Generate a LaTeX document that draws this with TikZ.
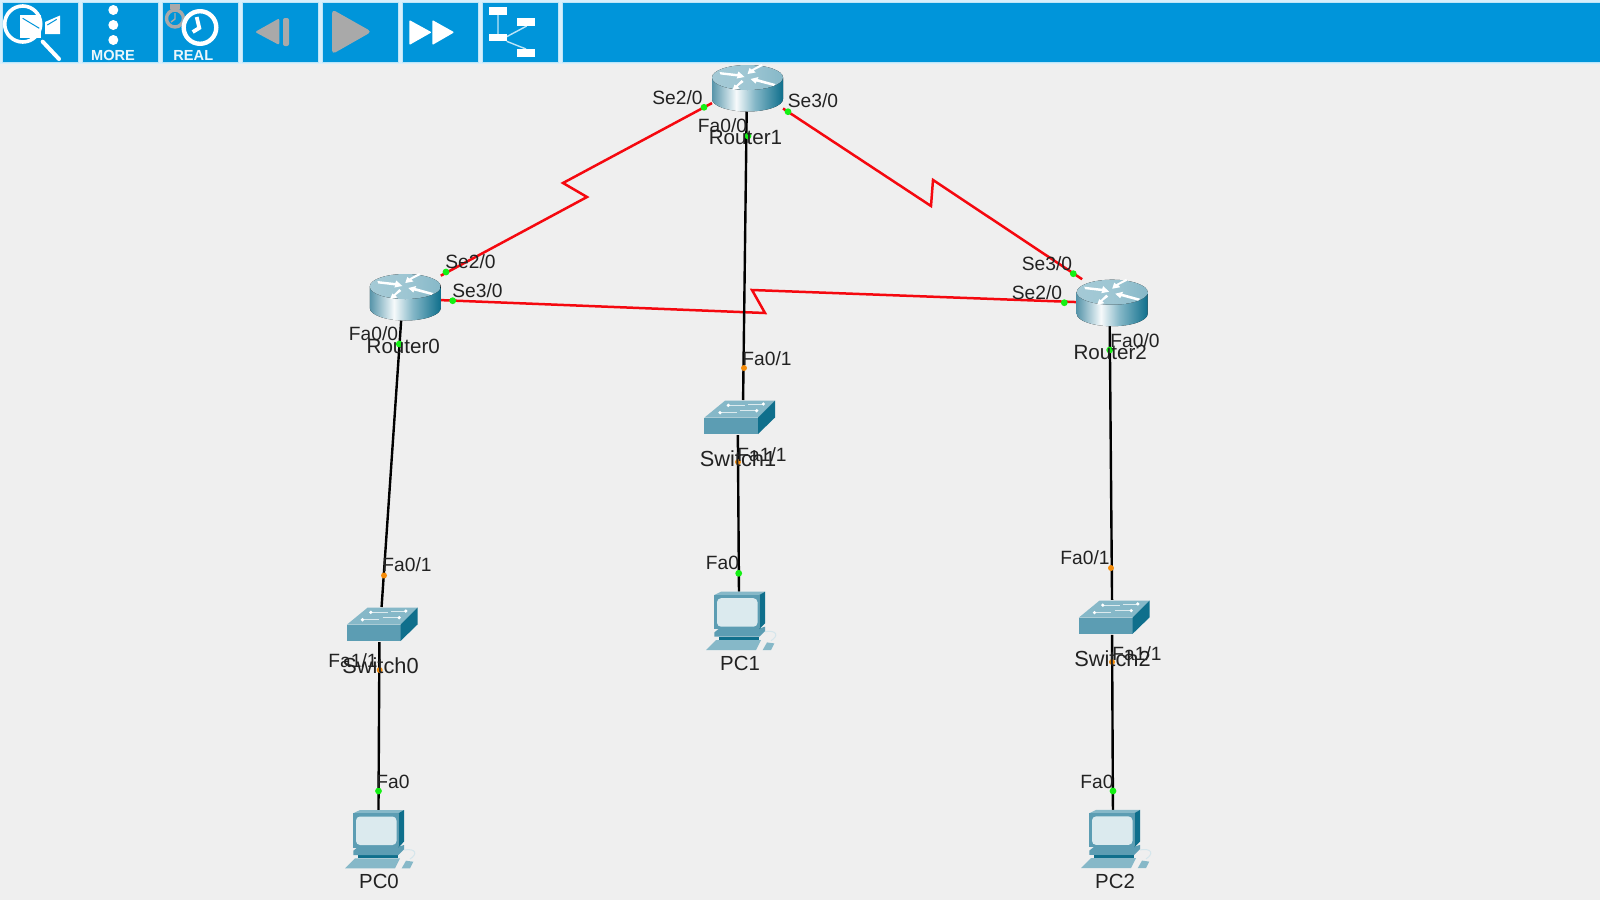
\documentclass[tikz,border=0pt]{standalone}
\usepackage{fontspec}
\setmainfont{Liberation Sans}
\usetikzlibrary{positioning}
\definecolor{barblue}{HTML}{0095DA}
\definecolor{barline}{HTML}{BCE5F8}
\definecolor{canvasgrey}{HTML}{EFEFEF}
\definecolor{btngrey}{HTML}{A9A9A9}
\definecolor{serialred}{HTML}{F5080F}
\definecolor{portgreen}{HTML}{14F014}
\definecolor{portorange}{HTML}{F58C0A}
\definecolor{textgrey}{HTML}{222222}
\definecolor{iconlight}{HTML}{86B8C8}
\definecolor{iconmid}{HTML}{5C9DB3}
\definecolor{icondark}{HTML}{0F6F8C}
\pgfdeclarehorizontalshading{routerside}{100bp}{color(0bp)=(iconmid); color(25bp)=(iconmid!95!black); color(38bp)=(iconmid!30!white); color(42bp)=(white!95!iconmid); color(55bp)=(iconlight); color(75bp)=(icondark); color(100bp)=(icondark)}
\pgfdeclarehorizontalshading{routertop}{100bp}{color(0bp)=(iconlight!75!white); color(25bp)=(iconlight!75!white); color(50bp)=(iconlight!80!white); color(75bp)=(iconlight); color(100bp)=(iconlight)}
\tikzstyle{routernode} = [rectangle, minimum width=35.5pt, minimum height=23.5pt, inner sep=0pt, outer sep=0pt]
\tikzstyle{switchnode} = [rectangle, minimum width=35.5pt, minimum height=17.5pt, inner sep=0pt, outer sep=0pt]
\tikzstyle{pcnode} = [rectangle, minimum width=35pt, minimum height=29pt, inner sep=0pt, outer sep=0pt]
\tikzstyle{devlabel} = [inner sep=0pt, text=textgrey, xshift=-1pt]
\tikzstyle{routerlabel} = [devlabel, font=\fontsize{10.3}{12}\selectfont, node distance=24.75pt]
\tikzstyle{switchlabel} = [devlabel, font=\fontsize{10.9}{12}\selectfont, node distance=20.75pt]
\tikzstyle{pclabel} = [devlabel, font=\fontsize{10.2}{12}\selectfont, node distance=21.25pt, xshift=0.5pt]
\tikzstyle{portlabel} = [inner sep=0pt, text=textgrey, font=\fontsize{9.6}{11}\selectfont]
\tikzstyle{greenport} = [circle, fill=portgreen, minimum size=3.4pt, inner sep=0pt]
\tikzstyle{orangeport} = [circle, fill=portorange, minimum size=3pt, inner sep=0pt]
\tikzstyle{serial} = [draw=serialred, line width=1.25pt, line join=miter]
\tikzstyle{lan} = [draw=black, line width=1.2pt]
\tikzstyle{button} = [fill=barblue, draw=barline, line width=0.5pt]
\tikzstyle{barword} = [inner sep=0pt, text=white!92!barblue, font=\fontsize{7.3}{9}\selectfont\bfseries]
\tikzset{
  routericon/.pic={
    \fill [shading=routerside] (-35.5,-10.5) -- (-35.5,11) arc [start angle=180, end angle=0, x radius=35.5, y radius=12.5] -- (35.5,-10.5) -- cycle;
    \fill [shading=routertop] (0,-10.5) ellipse [x radius=35.5, y radius=12.5];
    \fill [white] (-28,-16) -- (-10,-14) -- (-9,-16.5) -- (-3,-11) -- (-11,-9.5) -- (-10,-11.5) -- (-27,-13.5) -- cycle;
    \fill [white] (15,-22) -- (6,-17.5) -- (8,-15.5) -- (0,-14) -- (2,-20) -- (4,-18.5) -- (14,-24) -- cycle;
    \fill [white] (28,-4) -- (10,-9) -- (11,-11) -- (3,-9) -- (8,-4.5) -- (9,-6.5) -- (26,-2) -- cycle;
    \fill [white] (-4,-6) -- (-10,-1.5) -- (-8,0.5) -- (-15,2) -- (-13,-3.5) -- (-11.5,-2.5) -- (-6,-8) -- cycle;
  },
  switchicon/.pic={
    \fill [iconlight] (-35.7,0.2) -- (-15,-16.8) -- (35,-16.8) -- (18,0.2) -- cycle;
    \fill [iconmid] (-35.7,0.2) rectangle (18,16.5);
    \fill [icondark] (18,0.2) -- (35,-16.8) -- (35,0) -- (18,16.5) -- cycle;
    \draw [white!70!iconlight, line width=0.4pt] (-11.7,-12.2) -- (5,-12.2) (8.3,-13.5) -- (23.3,-13.5) (-20,-4.8) -- (-3.3,-4.8) (0,-6.8) -- (16.7,-6.8);
    \fill [white] (-11.7,-12.2) circle (1.8) (23.3,-13.5) circle (1.8) (-20,-4.8) circle (1.8) (16.7,-6.8) circle (1.8);
  },
  pcicon/.pic={
    \draw [iconlight!35!white, line width=0.5pt] (24,11) .. controls (36,9) and (38,15) .. (30,20);
    \fill [icondark] (-21.7,16) rectangle (18.3,19.3);
    \fill [iconmid] (-26.7,11.7) -- (-21.7,7.7) -- (18.3,7.7) -- (24,6) -- (24,10.3) -- (18.3,16) -- (-26.7,16) -- cycle;
    \fill [iconlight] (-26.7,-25.7) -- (-20,-29) -- (24,-29) -- (18.3,-25.7) -- cycle;
    \fill [icondark] (18.3,-25.7) -- (24,-29) -- (24,2.7) -- (18.3,8.5) -- cycle;
    \fill [iconmid] (-26.7,-25.7) rectangle (18.3,8.5);
    \fill [rounded corners=2pt, fill=iconlight!30!white] (-24,-22.5) rectangle (16.5,6);
    \fill [iconlight] (-35,29.3) -- (-25,19.3) -- (20,19.3) -- (15,29.3) -- cycle;
    \fill [iconlight] (21.7,29.3) -- (26,21.7) -- (33.3,22.7) -- (30,29.3) -- cycle;
  }
}
\begin{document}
\begin{tikzpicture}[x=0.5pt, y=-0.5pt, node distance=100pt]
  \useasboundingbox (0,0) rectangle (1600,900);
  \fill [canvasgrey] (0,0) rectangle (1600,900);

  % toolbar along the top
  \fill [barline!60!white] (0,0) rectangle (1600,64);
  \foreach \xa/\xb in {2/78, 82/158, 162/238, 242/318, 322/398, 402/478, 482/558, 562/1602}
    \draw [button] (\xa,2) rectangle (\xb,62);

  \draw [white, line width=1.8pt] (22.7,24) circle (18);
  \draw [white, line width=2pt, line cap=round] (42.7,41.7) -- (59,59);
  \fill [white] (20,15) rectangle (40.7,38);
  \fill [white] (45,22) -- (60,15.5) -- (60,34) -- (45,34) -- cycle;
  \draw [barblue, line width=0.5pt] (22.7,18.3) -- (39.3,28.3) (47.3,25) -- (56.7,19.3);

  \fill [white] (113.3,10) circle (5) (113.3,25) circle (5) (113.3,40) circle (5);
  \node (morelabel) [barword] at (113,55) {MORE};

  \draw [btngrey, line width=1.7pt] (175,18.5) circle (8.5);
  \draw [btngrey, line width=0.7pt] (175,13) -- (175,19) -- (171,22);
  \fill [btngrey] (170,3.5) rectangle (180,9);
  \fill [barblue] (200,27.5) circle (18.5);
  \draw [white, line width=2.2pt] (200,27.5) circle (16.3);
  \draw [white, line width=1.9pt] (196.7,17) -- (199.3,28) -- (192.7,32);
  \node (reallabel) [barword] at (193.3,55) {REAL};

  \fill [btngrey, rounded corners=1pt] (255,32) -- (279.3,18.3) -- (279.3,45) -- cycle;
  \fill [btngrey, rounded corners=1pt] (283,18) rectangle (289,46);
  \fill [btngrey, rounded corners=2pt] (332,9.3) -- (371.7,31.7) -- (332,54.3) -- cycle;
  \fill [white, rounded corners=0.5pt] (409.3,20) -- (431.7,32.3) -- (409.3,45) -- cycle;
  \fill [white, rounded corners=0.5pt] (432.3,20) -- (454.3,32.3) -- (432.3,45) -- cycle;

  \draw [barline, line width=0.7pt] (498,15) -- (498,34) (506.7,36.7) -- (526.7,26) (506.7,41.3) -- (526,49);
  \fill [white] (489.3,7.3) rectangle (506.7,15);
  \fill [white] (517.3,18.3) rectangle (534.7,26);
  \fill [white] (489.3,33.7) rectangle (506.7,41.3);
  \fill [white] (517.3,49) rectangle (534.7,56.7);

  % We start by placing the devices
  \node (router1) [routernode] at (747.5,88) {};
  \node (router0) [routernode, below of=router1, xshift=-171.1pt, yshift=-4.5pt] {};
  \node (router2) [routernode, below of=router1, xshift=182.35pt, yshift=-7.35pt] {};
  \node (switch1) [switchnode, below of=router1, xshift=-3.75pt, yshift=-64.75pt] {};
  \node (switch0) [switchnode, below of=router0, xshift=-11.4pt, yshift=-63.75pt] {};
  \node (switch2) [switchnode, below of=router2, xshift=1.15pt, yshift=-57.35pt] {};
  \node (pc1) [pcnode, below of=switch1, xshift=0.5pt, yshift=-1.6pt] {};
  \node (pc0) [pcnode, below of=switch0, xshift=-1.25pt, yshift=-7.25pt] {};
  \node (pc2) [pcnode, below of=switch2, xshift=0.75pt, yshift=-10.75pt] {};

  \coordinate (bolt0a) at (587,197);
  \coordinate (bolt0b) at (563,183);
  \coordinate (bolt2a) at (931,206);
  \coordinate (bolt2b) at (933,180);
  \coordinate (bolt3a) at (765,313);
  \coordinate (bolt3b) at (752,290);

  % draw connections between nodes
  \draw [serial] (router0.31) -- (bolt0a) -- (bolt0b) -- (router1.203);
  \draw [serial] (router1.330) -- (bolt2a) -- (bolt2b) -- (router2.142);
  \draw [serial] (router0.355) -- (bolt3a) -- (bolt3b) -- (router2.179);
  \draw [lan] (router1.268) -- (switch1.80);
  \draw [lan] (router0.260) -- (switch0.93);
  \draw [lan] (router2.264) -- (switch2.98);
  \draw [lan] (switch1.263) -- (pc1.94);
  \draw [lan] (switch0.260) -- (pc0.93);
  \draw [lan] (switch2.262) -- (pc2.96);

  % icons go on top of the lines
  \pic at (router0) {routericon};
  \pic at (router1) {routericon};
  \pic at (router2) {routericon};
  \pic at (switch0) {switchicon};
  \pic at (switch1) {switchicon};
  \pic at (switch2) {switchicon};
  \pic at (pc0) {pcicon};
  \pic at (pc1) {pcicon};
  \pic at (pc2) {pcicon};

  % ports
  \node (r1se2) [greenport] at (704,107.3) {};
  \node (r1se3) [greenport] at (788,111.7) {};
  \node (r1fa) [greenport] at (748,136) {};
  \node (r0se2) [greenport] at (446,272) {};
  \node (r0se3) [greenport] at (452.7,300.7) {};
  \node (r0fa) [greenport] at (399.3,344) {};
  \node (r2se3) [greenport] at (1073.3,273.7) {};
  \node (r2se2) [greenport] at (1064.3,302.7) {};
  \node (r2fa) [greenport] at (1109.7,350) {};
  \node (pc1fa) [greenport] at (738.7,573.3) {};
  \node (pc0fa) [greenport] at (378.5,791) {};
  \node (pc2fa) [greenport] at (1113,791) {};
  \node (sw1up) [orangeport] at (744,368) {};
  \node (sw1down) [orangeport] at (738,462) {};
  \node (sw0up) [orangeport] at (384,575.5) {};
  \node (sw0down) [orangeport] at (379.7,670) {};
  \node (sw2up) [orangeport] at (1111,568) {};
  \node (sw2down) [orangeport] at (1112,662) {};

  % and the texts
  \node (r1se2txt) [portlabel] at (677.5,98) {Se2/0};
  \node (r1se3txt) [portlabel] at (813,101) {Se3/0};
  \node (r1fatxt) [portlabel] at (722.5,125.5) {Fa0/0};
  \node (r0se2txt) [portlabel] at (470.5,262) {Se2/0};
  \node (r0se3txt) [portlabel] at (477.5,291) {Se3/0};
  \node (r0fatxt) [portlabel] at (373.5,334) {Fa0/0};
  \node (r2se3txt) [portlabel] at (1047,264) {Se3/0};
  \node (r2se2txt) [portlabel] at (1037,293) {Se2/0};
  \node (r2fatxt) [portlabel] at (1135,341) {Fa0/0};
  \node (sw1uptxt) [portlabel] at (767,359) {Fa0/1};
  \node (sw1downtxt) [portlabel] at (762,455) {Fa1/1};
  \node (sw0uptxt) [portlabel] at (407,565) {Fa0/1};
  \node (sw0downtxt) [portlabel] at (353,661) {Fa1/1};
  \node (sw2uptxt) [portlabel] at (1085,558) {Fa0/1};
  \node (sw2downtxt) [portlabel] at (1137,654) {Fa1/1};
  \node (pc1fatxt) [portlabel] at (722.5,563) {Fa0};
  \node (pc0fatxt) [portlabel] at (393,782) {Fa0};
  \node (pc2fatxt) [portlabel] at (1097,782) {Fa0};

  \node (router1txt) [routerlabel, below of=router1] {Router1};
  \node (router0txt) [routerlabel, below of=router0] {Router0};
  \node (router2txt) [routerlabel, below of=router2] {Router2};
  \node (switch1txt) [switchlabel, below of=switch1] {Switch1};
  \node (switch0txt) [switchlabel, below of=switch0] {Switch0};
  \node (switch2txt) [switchlabel, below of=switch2] {Switch2};
  \node (pc1txt) [pclabel, below of=pc1] {PC1};
  \node (pc0txt) [pclabel, below of=pc0] {PC0};
  \node (pc2txt) [pclabel, below of=pc2] {PC2};

\end{tikzpicture}
\end{document}
